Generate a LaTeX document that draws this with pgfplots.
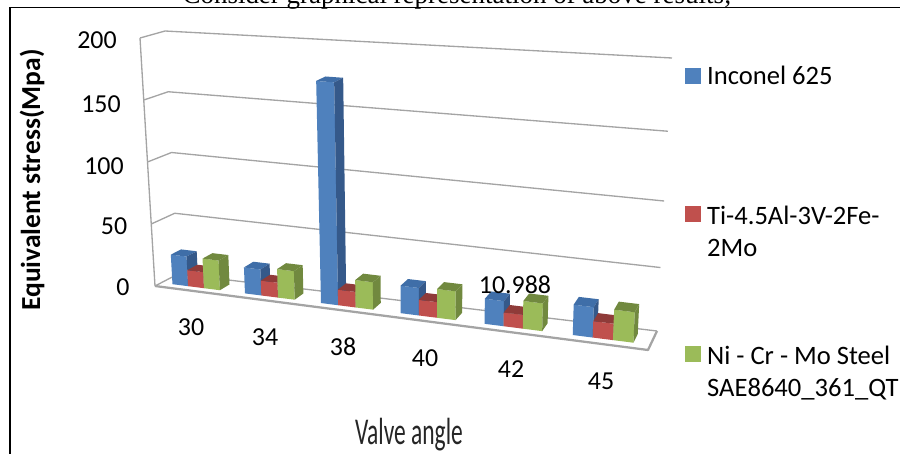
\documentclass[border=0pt]{standalone}
\usepackage{pgfplots}
\usepackage{pgfplotstable}
\usepackage{fontspec}
\pgfplotsset{compat=1.18}
\setmainfont{Carlito}
\newfontfamily\serifcaption{Liberation Serif}

\definecolor{blueF}{HTML}{4F81BD}\definecolor{blueT}{HTML}{3F6EA8}\definecolor{blueS}{HTML}{35598A}
\definecolor{redF}{HTML}{C0504D}\definecolor{redT}{HTML}{8F3B39}\definecolor{redS}{HTML}{8F3B39}
\definecolor{greenF}{HTML}{9BBB59}\definecolor{greenT}{HTML}{71893F}\definecolor{greenS}{HTML}{71893F}
\definecolor{gridgray}{HTML}{A4A4A4}

% Equivalent stress by valve angle
\pgfplotstableread{
idx angle inconel ti nicr
0 30 24 13 24
1 34 21 12 23
2 38 174 12.5 22
3 40 22 12.5 23
4 42 20 10.988 22
5 45 24 13 24
}\stresstable

% Perspective box: u along the categories, w into the depth, v the stress
\newcommand\project[3]{%
  \pgfmathsetmacro\prT{(#1)/(1+0.16*(1-(#1)))}%
  \pgfmathsetmacro\prS{((#3)/200)/(1+0.1*(#1)*(1-(#3)/200))}%
  \pgfmathsetmacro\prW{#2}%
  \pgfmathsetmacro\prX{(1-\prS)*((1-\prW)*((1-\prT)*155+\prT*648)+\prW*((1-\prT)*178+\prT*657))+\prS*((1-\prW)*((1-\prT)*140+\prT*660)+\prW*((1-\prT)*165+\prT*672))}%
  \pgfmathsetmacro\prY{(1-\prS)*((1-\prW)*((1-\prT)*286+\prT*350)+\prW*((1-\prT)*274+\prT*331))+\prS*((1-\prW)*((1-\prT)*38+\prT*72)+\prW*((1-\prT)*31+\prT*58))}%
}
\gdef\ptlist{}
\newcommand\addpt[3]{\project{#1}{#2}{#3}\xdef\ptlist{\ptlist (\prX,\prY)}}
\newcommand\fillpoly[1]{\edef\plotcmd{\noexpand\addplot[fill=#1,draw=none,forget plot] coordinates {\ptlist} --cycle;}\plotcmd\gdef\ptlist{}}
\newcommand\strokepath[1]{\edef\plotcmd{\noexpand\addplot[gridgray,line width=#1,forget plot,line join=round] coordinates {\ptlist};}\plotcmd\gdef\ptlist{}}

% One cuboid: group, slot in the group, value, face colours
\newcommand\drawbar[4]{%
  \pgfmathsetmacro\barUa{(#1+0.16+0.22*#2)/6}%
  \pgfmathsetmacro\barUb{(#1+0.16+0.22*(#2+1))/6}%
  \def\barWa{0.27}\def\barWb{0.72}%
  \addpt{\barUa}{\barWa}{0}\addpt{\barUb}{\barWa}{0}\addpt{\barUb}{\barWa}{#3}\addpt{\barUa}{\barWa}{#3}\fillpoly{#4F}%
  \addpt{\barUa}{\barWa}{#3}\addpt{\barUb}{\barWa}{#3}\addpt{\barUb}{\barWb}{#3}\addpt{\barUa}{\barWb}{#3}\fillpoly{#4T}%
  \addpt{\barUb}{\barWa}{0}\addpt{\barUb}{\barWb}{0}\addpt{\barUb}{\barWb}{#3}\addpt{\barUb}{\barWa}{#3}\fillpoly{#4S}%
}

\begin{document}
\begin{tikzpicture}
\clip (0,0) rectangle (675bp,340.5bp);
\begin{axis}[
  at={(0,0)},anchor=south west,
  scale only axis,width=675bp,height=340.5bp,
  xmin=0,xmax=900,ymin=0,ymax=454,y dir=reverse,
  hide axis,clip=false,
  legend cell align=left,
  legend style={at={(axis cs:685,63.3)},anchor=north west,draw=none,fill=none,
    inner sep=0pt,outer sep=0pt,row sep=82.75bp,column sep=3bp,
    font=\fontsize{20}{24}\selectfont},
]
% page frame
\addplot[black,line width=1.5pt,forget plot] coordinates {(10,454) (10,7.5) (900,7.5)};

% gridlines on the side and back walls
\pgfplotsinvokeforeach{50,100,150,200}{%
  \addpt{0}{0}{#1}\addpt{0}{1}{#1}\addpt{1}{1}{#1}\strokepath{1pt}
}
% left wall edge and floor
\addpt{0}{0}{200}\addpt{0}{0}{0}\strokepath{1pt}
\addpt{0}{0}{0}\addpt{0}{1}{0}\addpt{1}{1}{0}\strokepath{1pt}
\addpt{0}{0}{0}\addpt{1}{0}{0}\addpt{1}{1}{0}\strokepath{1.7pt}

% bars
\foreach \g in {0,...,5}{%
  \pgfplotstablegetelem{\g}{inconel}\of\stresstable\let\va\pgfplotsretval
  \pgfplotstablegetelem{\g}{ti}\of\stresstable\let\vb\pgfplotsretval
  \pgfplotstablegetelem{\g}{nicr}\of\stresstable\let\vc\pgfplotsretval
  \drawbar{\g}{0}{\va}{blue}%
  \drawbar{\g}{1}{\vb}{red}%
  \drawbar{\g}{2}{\vc}{green}%
}

% legend
\addlegendimage{legend image code/.code={\fill[blueF] (0cm,-0.184cm) rectangle (0.397cm,0.213cm);}}
\addlegendentry{Inconel 625}
\addlegendimage{legend image code/.code={\fill[redF] (0cm,-0.184cm) rectangle (0.397cm,0.213cm);}}
\addlegendentry{\begin{tabular}[t]{@{}l@{}}Ti-4.5Al-3V-2Fe-\\2Mo\end{tabular}}
\addlegendimage{legend image code/.code={\fill[greenF] (0cm,-0.184cm) rectangle (0.397cm,0.213cm);}}
\addlegendentry{\begin{tabular}[t]{@{}l@{}}Ni - Cr - Mo Steel\\SAE8640\_361\_QT\end{tabular}}

% value-axis labels
\begin{scope}[every node/.style={font=\fontsize{19.5}{24}\selectfont,inner sep=0pt}]
\node at (axis cs:97,40) {200};
\node at (axis cs:101,104) {150};
\node at (axis cs:104,166) {100};
\node at (axis cs:114,226) {50};
\node at (axis cs:123,287) {0};
% category labels
\node at (axis cs:191,327) {30};
\node at (axis cs:265,337) {34};
\node at (axis cs:343,347) {38};
\node at (axis cs:425,358) {40};
\node at (axis cs:511,369) {42};
\node at (axis cs:601,381) {45};
% data label on the Ti bar at 42 degrees
\node at (axis cs:515,285) {10.988};
% axis titles
\node[rotate=90,font=\fontsize{20.7}{24}\selectfont\bfseries] at (axis cs:32,180) {Equivalent stress(Mpa)};
\node[font=\fontsize{28.5}{32}\selectfont,xscale=0.62,text=black!85] at (axis cs:409,435) {Valve angle};
% running text above the frame
\node[anchor=base,font=\fontsize{20.3}{22}\selectfont\serifcaption] at (axis cs:457,3.5) {Consider graphical representation of above results;};
\end{scope}
\end{axis}
\end{tikzpicture}
\end{document}
